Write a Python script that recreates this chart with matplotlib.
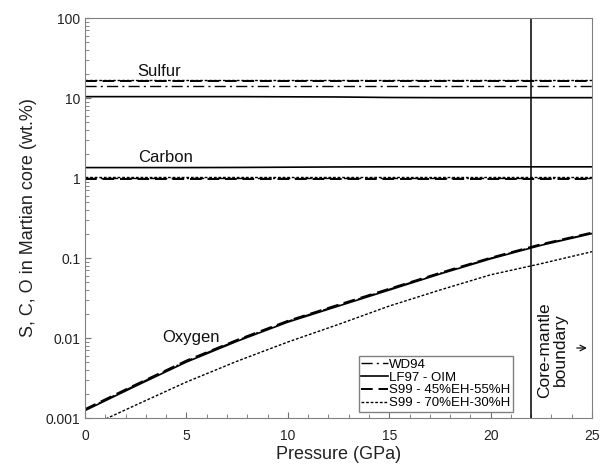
import numpy as np
import matplotlib
matplotlib.use('Agg')
import matplotlib.pyplot as plt
from matplotlib.ticker import FixedLocator, FixedFormatter, LogLocator, MultipleLocator, NullFormatter

plt.rcParams['font.family'] = ['Liberation Sans', 'DejaVu Sans']

# pressure grid (GPa)
P = [0, 2.5, 5, 7.5, 10, 12.5, 15, 17.5, 20, 22.5, 25]

# oxygen (wt.%)
o_wd94 = [0.00127, 0.00258, 0.00515, 0.00935, 0.0162, 0.0257, 0.0407, 0.0643, 0.0995, 0.147, 0.205]
o_lf97 = [0.00124, 0.00251, 0.00501, 0.00912, 0.0158, 0.0251, 0.0398, 0.0631, 0.0977, 0.1445, 0.202]
o_s45 = [0.00129, 0.00262, 0.00522, 0.00948, 0.0164, 0.0261, 0.0413, 0.0652, 0.1008, 0.149, 0.208]
o_s70 = [0.00074, 0.00145, 0.00282, 0.00513, 0.00891, 0.0148, 0.0251, 0.0398, 0.0617, 0.0851, 0.120]

# sulfur (wt.%)
s_wd94 = [14.1] * len(P)
s_lf97 = [10.4, 10.4, 10.4, 10.4, 10.35, 10.3, 10.15, 10.1, 10.1, 10.1, 10.1]
s_s45 = [16.5] * len(P)
s_s70 = [17.0] * len(P)

# carbon (wt.%)
c_wd94 = [1.0] * len(P)
c_lf97 = [1.35, 1.35, 1.35, 1.355, 1.365, 1.375, 1.38, 1.38, 1.38, 1.38, 1.38]
c_s45 = [0.97] * len(P)
c_s70 = [1.03] * len(P)

cmb = 22.0

ls_wd94 = (0, (8, 3, 1.5, 3))
ls_lf97 = '-'
ls_s45 = (0, (6, 3))
ls_s70 = (0, (2, 1.3))

fig = plt.figure(figsize=(6.0, 4.7), dpi=100)
ax = fig.add_axes([0.1417, 0.1106, 0.845, 0.8511])

for s, c, o, ls, lab, w in [(s_wd94, c_wd94, o_wd94, ls_wd94, 'WD94', 1.0),
                            (s_lf97, c_lf97, o_lf97, ls_lf97, 'LF97 - OIM', 1.2),
                            (s_s45, c_s45, o_s45, ls_s45, 'S99 - 45%EH-55%H', 1.4),
                            (s_s70, c_s70, o_s70, ls_s70, 'S99 - 70%EH-30%H', 1.0)]:
    ax.plot(P, o, color='black', linestyle=ls, lw=w, label=lab)
    ax.plot(P, s, color='black', linestyle=ls, lw=w)
    ax.plot(P, c, color='black', linestyle=ls, lw=w)

ax.axvline(cmb, color='black', lw=1.1)

ax.set_yscale('log')
ax.set_xlim(0, 25)
ax.set_ylim(0.001, 100)

ax.xaxis.set_major_locator(MultipleLocator(5))
ax.xaxis.set_minor_locator(MultipleLocator(1))
ax.yaxis.set_major_locator(FixedLocator([0.001, 0.01, 0.1, 1, 10, 100]))
ax.yaxis.set_major_formatter(FixedFormatter(['0.001', '0.01', '0.1', '1', '10', '100']))
ax.yaxis.set_minor_locator(LogLocator(base=10, subs=np.arange(2, 10)))
ax.yaxis.set_minor_formatter(NullFormatter())

ax.tick_params(which='both', direction='in', color='#707070', labelsize=10, labelcolor='#222222')
ax.tick_params(which='major', length=4)
ax.tick_params(which='minor', length=3)
ax.tick_params(axis='x', pad=8)
for sp in ax.spines.values():
    sp.set_color('#808080')

ax.set_xlabel('Pressure (GPa)', fontsize=13, color='#222222', labelpad=2)
ax.set_ylabel('S, C, O in Martian core (wt.%)', fontsize=13, color='#222222', labelpad=6)

ax.text(2.6, 18.8, 'Sulfur', fontsize=12, va='baseline', color='#111111')
ax.text(2.6, 1.58, 'Carbon', fontsize=12, va='baseline', color='#111111')
ax.text(3.8, 0.0089, 'Oxygen', fontsize=12, va='baseline', color='#111111')
ax.text(23.05, 0.0071, 'Core-mantle\nboundary', rotation=90, fontsize=12.5,
        ha='center', va='center', linespacing=1.0, color='#111111')
ax.annotate('', xy=(24.75, 0.0075), xytext=(24.25, 0.0075),
            arrowprops=dict(arrowstyle='->', lw=0.9, color='#111111',
                            shrinkA=0, shrinkB=0))

leg = ax.legend(loc='lower left', bbox_to_anchor=(0.54, 0.015), fontsize=9.5,
                handlelength=2.0, handletextpad=0.1, borderpad=0.2, labelspacing=0.05,
                borderaxespad=0, fancybox=False, framealpha=1)
leg.get_frame().set_edgecolor('#808080')
leg.get_frame().set_linewidth(1.0)

fig.savefig('out.png', dpi=100)
